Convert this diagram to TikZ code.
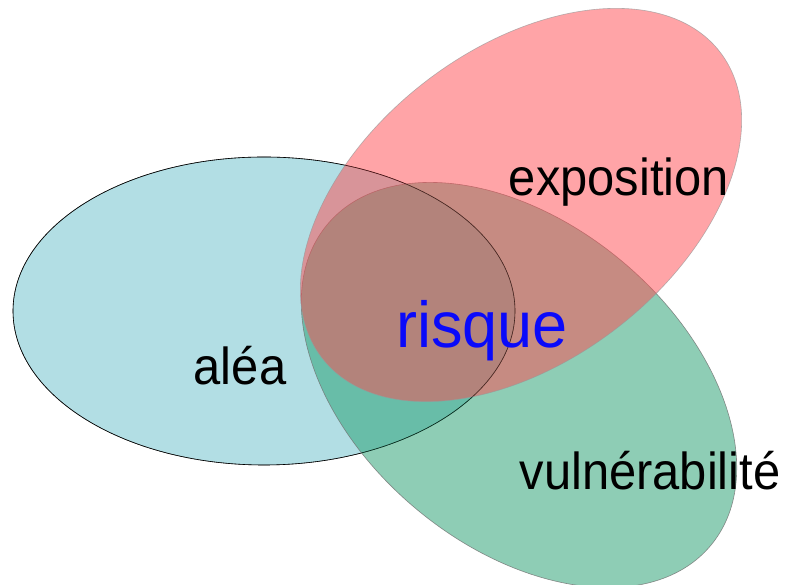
\documentclass[tikz,border=0pt]{standalone}
\usepackage{fontspec}
\setmainfont{Liberation Sans}
\definecolor{aleafill}{RGB}{178,222,228}
\definecolor{expofill}{RGB}{255,75,80}
\definecolor{vulnfill}{RGB}{31,157,109}
\definecolor{risqueblue}{RGB}{10,10,250}
\tikzset{
  set/.style={line width=0.6pt},
  lbl/.style={font=\fontsize{52}{52}\selectfont, anchor=base, inner sep=0pt, xscale=0.94, transform shape},
  big/.style={font=\fontsize{65}{65}\selectfont, anchor=base, inner sep=0pt, xscale=0.97, transform shape, text=risqueblue}
}
\begin{document}
\begin{tikzpicture}[x=1pt,y=1pt]
\useasboundingbox (0,0) rectangle (795,585);
\fill[white] (0,0) rectangle (795,585);
\begin{scope}
\clip (0,0) rectangle (795,585);
% alea
\draw[set, fill=aleafill, draw=black] (264,274) ellipse [x radius=251pt, y radius=154pt];
% vulnerabilite
\draw[set, fill=vulnfill, fill opacity=0.5, draw=black!55, draw opacity=0.8, rotate around={-40:(519,200)}] (519,200) ellipse [x radius=250pt, y radius=161pt];
% exposition
\draw[set, fill=expofill, fill opacity=0.5, draw=black!40, draw opacity=0.7, rotate around={37.5:(521,380)}] (521,380) ellipse [x radius=251pt, y radius=156pt];
% alea outline seen through the others
\draw[black, line width=0.6pt, opacity=0.5] (264,274) ellipse [x radius=251pt, y radius=154pt];
\end{scope}
\node[lbl] (expo) at (619,389) {exposition};
\node[lbl] (alea) at (240,200) {aléa};
\node[big] (risque) at (482,237) {risque};
\node[lbl] (vuln) at (650,95) {vulnérabilité};
\end{tikzpicture}
\end{document}
